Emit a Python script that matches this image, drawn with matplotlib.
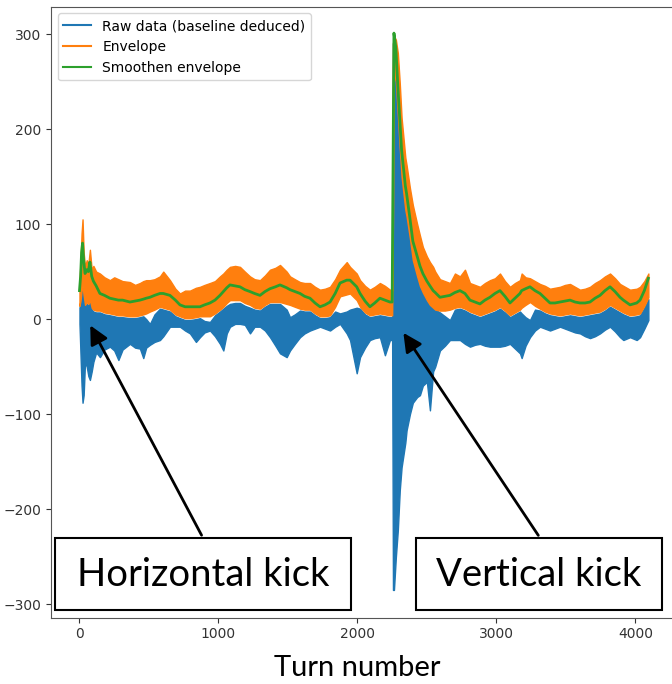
import matplotlib
matplotlib.use("Agg")
import matplotlib.pyplot as plt
from matplotlib.lines import Line2D
from matplotlib.patches import Rectangle

# Values (turn number -> amplitude)
turn = [0, 8, 15, 22, 30, 40, 52, 64, 75, 88, 100, 120, 147, 180, 219, 250, 280, 310,
        363, 400, 435, 459, 480, 507, 540, 579, 603, 651, 690, 723, 760, 795, 838, 867,
        900, 939, 975, 1011, 1035, 1060, 1083, 1120, 1155, 1190, 1227, 1260, 1299, 1335,
        1371, 1410, 1443, 1491, 1515, 1550, 1587, 1620, 1659, 1695, 1731, 1767, 1803,
        1840, 1875, 1923, 1947, 1995, 2019, 2055, 2090, 2125, 2162, 2198, 2234, 2250,
        2256, 2263, 2277, 2291, 2305, 2318, 2345, 2354, 2378, 2399, 2430, 2450, 2471,
        2500, 2522, 2545, 2560, 2594, 2630, 2666, 2702, 2738, 2774, 2810, 2846, 2882,
        2918, 2954, 2990, 3026, 3062, 3098, 3134, 3170, 3182, 3210, 3242, 3278, 3314,
        3350, 3386, 3422, 3458, 3494, 3530, 3566, 3602, 3638, 3674, 3710, 3746, 3782,
        3818, 3854, 3890, 3914, 3962, 4010, 4034, 4065, 4094]

# envelope (orange) upper / lower extent
env_max = [40, 62, 90, 105, 70, 55, 62, 58, 73, 52, 56, 50, 48, 44, 41, 44, 42, 40,
           39, 36, 38, 40, 41, 41, 42, 45, 50, 41, 32, 27, 30, 30, 33, 34,
           36, 38, 40, 45, 48, 52, 55, 56, 55, 50, 45, 42, 41, 46,
           52, 54, 57, 50, 45, 42, 39, 38, 38, 34, 31, 32, 34,
           42, 52, 60, 55, 48, 41, 35, 31, 34, 38, 35, 31, 30,
           290, 298, 294, 280, 248, 212, 170, 162, 138, 120, 100, 88, 76,
           66, 60, 55, 50, 42, 40, 38, 48, 45, 52, 38, 36, 34,
           38, 41, 43, 48, 40, 34, 38, 41, 48, 44, 43, 40, 37,
           35, 32, 33, 34, 36, 37, 34, 31, 32, 34, 38, 41, 45,
           48, 43, 37, 35, 31, 32, 34, 40, 48]
env_min = [14, 20, 30, 35, 25, 15, 18, 16, 20, 12, 10, 9, 9, 7, 6, 5, 4, 4,
           3, 3, 4, 5, 6, 8, 10, 13, 12, 10, 5, 3, 1, 1, 2, 3,
           3, 3, 6, 10, 13, 17, 20, 20, 20, 17, 15, 12, 11, 15,
           18, 18, 18, 16, 15, 13, 11, 10, 10, 6, 3, 3, 4,
           13, 24, 26, 27, 20, 13, 7, 4, 5, 6, 5, 4, 4,
           100, 260, 250, 215, 180, 150, 115, 108, 85, 62, 45, 35, 28,
           20, 15, 12, 10, 9, 9, 10, 12, 13, 11, 8, 6, 4,
           6, 8, 10, 13, 9, 4, 7, 10, 12, 15, 18, 14, 11,
           8, 6, 5, 4, 5, 6, 5, 4, 5, 6, 7, 8, 11,
           15, 12, 9, 7, 4, 5, 6, 14, 23]

# smoothed envelope (green)
env_smooth = [30, 45, 70, 80, 62, 48, 52, 50, 60, 45, 40, 35, 27, 25, 22, 21, 20, 20,
              18, 19, 20, 21, 22, 23, 25, 27, 27, 25, 20, 15, 13, 13, 13, 13,
              15, 17, 20, 25, 29, 33, 36, 35, 34, 31, 29, 27, 25, 29,
              32, 34, 36, 33, 31, 29, 27, 24, 22, 17, 13, 15, 18,
              27, 38, 41, 41, 34, 27, 19, 13, 17, 22, 20, 18, 18,
              150, 301, 285, 245, 210, 178, 140, 132, 106, 82, 66, 56, 48,
              40, 35, 30, 28, 23, 24, 25, 28, 30, 27, 20, 18, 16,
              20, 23, 27, 30, 24, 17, 22, 27, 30, 32, 34, 30, 27,
              22, 17, 17, 18, 19, 20, 18, 17, 17, 18, 22, 25, 30,
              34, 29, 23, 20, 15, 17, 20, 30, 43]

# raw data (blue) upper / lower extent
raw_max = [12, 18, 28, 33, 23, 13, 16, 14, 18, 10, 8, 7, 7, 5, 4, 3, 2, 2,
           1, 1, 2, 3, 0, -5, 5, 11, 10, 8, 3, 1, -1, -1, 0, 1,
           -2, -3, 4, 8, 11, 14, 16, 17, 17, 14, 12, 10, 9, 13,
           16, 16, 16, 10, 2, 5, 9, 8, 8, 4, 1, 1, 2,
           8, 6, 8, 10, 12, 11, 5, 2, 3, 4, 3, 2, 2,
           290, 295, 285, 240, 200, 165, 125, 115, 88, 65, 45, 35, 28,
           20, 15, 12, 10, 7, 3, -1, 10, 11, 9, 6, 4, 2,
           4, 6, 8, 11, 7, 2, 5, 8, 6, 2, -1, 10, 9,
           6, 4, 3, 2, 3, 4, 3, 2, 3, 4, 5, 6, 9,
           13, 10, 7, 5, 2, 3, 4, 12, 21]
raw_min = [-5, -40, -70, -88, -80, -45, -50, -60, -64, -55, -45, -35, -40, -32, -29, -33, -43, -32,
           -26, -30, -31, -41, -30, -27, -24, -22, -18, -8, -8, -8, -12, -15, -24, -19,
           -14, -12, -18, -26, -33, -15, -8, -5, -5, -6, -15, -8, -8, -12,
           -19, -28, -36, -40, -33, -26, -19, -15, -12, -10, -8, -10, -12,
           -8, -5, -15, -22, -57, -40, -30, -22, -20, -19, -38, -22, -22,
           -285, -285, -250, -222, -180, -156, -130, -117, -100, -88, -82, -80, -70,
           -66, -96, -55, -50, -33, -28, -22, -22, -22, -26, -29, -27, -26,
           -28, -29, -29, -29, -28, -26, -31, -36, -41, -28, -19, -12, -8,
           -10, -12, -10, -8, -10, -12, -14, -15, -18, -20, -18, -15, -11,
           -8, -13, -19, -22, -19, -22, -19, -10, -1]

series_labels = ["Raw data (baseline deduced)", "Envelope", "Smoothen envelope"]
x_ticks = [0, 1000, 2000, 3000, 4000]
y_ticks = [-300, -200, -100, 0, 100, 200, 300]

W, H = 672, 684
fig = plt.figure(figsize=(W / 100, H / 100), dpi=100)
ax = fig.add_axes([51 / W, 1 - 617.5 / H, 626 / W, 611 / H])

# Raw data, envelope and smoothed envelope
ax.fill_between(turn, raw_min, raw_max, color="tab:blue", lw=1.0)
ax.fill_between(turn, env_min, env_max, color="tab:orange", lw=1.0)
ax.plot(turn, env_smooth, color="tab:green", lw=2.0)

ax.set_xlim(-205, 4300)
ax.set_ylim(-314, 329)
ax.set_xticks(x_ticks)
ax.set_yticks(y_ticks)
ax.tick_params(labelsize=10, colors="#333333")
for sp in ax.spines.values():
    sp.set_color("#555555")

handles = [Line2D([], [], color=c, lw=1.5) for c in ["tab:blue", "tab:orange", "tab:green"]]
ax.legend(handles, series_labels, loc="upper left", fontsize=10)

# Arrows pointing at the kicks
arrow = dict(arrowstyle="-|>", color="black", lw=2, mutation_scale=28)
ax.annotate("", xy=(68, -4), xytext=(888, -230), arrowprops=arrow, zorder=8)
ax.annotate("", xy=(2320, -12), xytext=(3313, -230), arrowprops=arrow, zorder=8)

# Boxed captions (figure pixels)
boxes = [("Horizontal kick", 55, 351), ("Vertical kick", 416, 662)]
for txt, x0, x1 in boxes:
    ax.add_patch(Rectangle((x0 / W, 1 - 610 / H), (x1 - x0) / W, 72 / H,
                           transform=fig.transFigure, facecolor="white",
                           edgecolor="black", lw=1.5, clip_on=False, zorder=10))
    ax.text((x0 + x1) / 2 / W, 1 - 575 / H, txt, transform=fig.transFigure,
            ha="center", va="center", fontsize=27.5, family="Lato", zorder=11)

fig.text(357 / W, 1 - 668 / H, "Turn number", ha="center", va="center",
         fontsize=21, family="Lato")

fig.savefig("out.png", dpi=100)
